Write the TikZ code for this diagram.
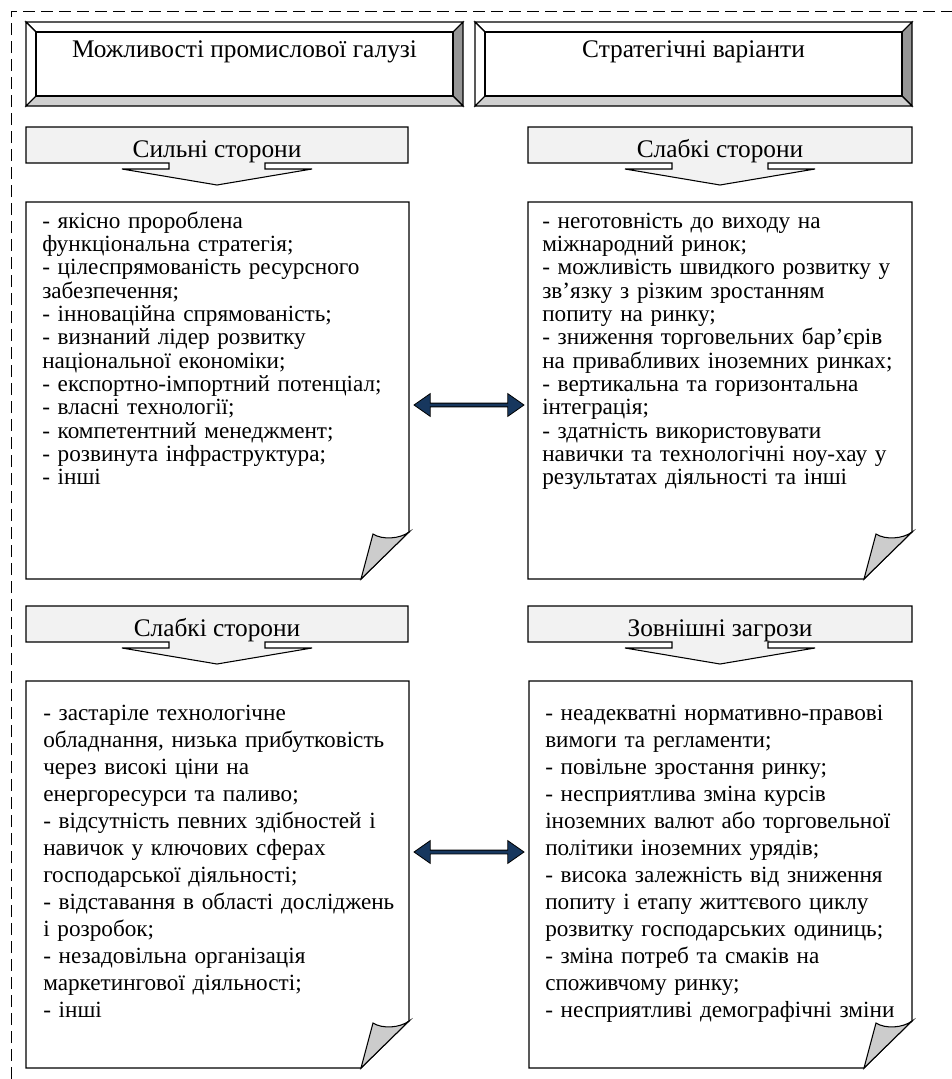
\documentclass[tikz,border=0pt]{standalone}
\usepackage{fontspec}
\setmainfont{Liberation Serif}
\usetikzlibrary{shapes.arrows}

\definecolor{calloutgray}{RGB}{242,242,242}
\definecolor{curlgray}{RGB}{204,204,204}
\definecolor{bevelside}{RGB}{150,150,150}
\definecolor{bevelbottom}{RGB}{208,208,208}
\definecolor{linknavy}{RGB}{23,55,94}

\newcommand{\BodyFont}{\fontsize{17.4}{17.5}\selectfont}
\newcommand{\LowFont}{\fontsize{17.4}{20.3}\selectfont}
\newcommand{\HeadFont}{\fontsize{19}{22}\selectfont}

% framed title: x1 y1 x2 y2, bevel of 10
\newcommand{\BevelFrame}[4]{%
	\draw[boxline,fill=white] (#1,#2) -- (#3,#2) -- (#3-10,#2+10) -- (#1+10,#2+10) -- cycle;
	\draw[boxline,fill=white] (#1,#2) -- (#1+10,#2+10) -- (#1+10,#4-10) -- (#1,#4) -- cycle;
	\draw[boxline,fill=bevelside] (#3,#2) -- (#3-10,#2+10) -- (#3-10,#4-10) -- (#3,#4) -- cycle;
	\draw[boxline,fill=bevelbottom] (#1,#4) -- (#1+10,#4-10) -- (#3-10,#4-10) -- (#3,#4) -- cycle;
	\draw[boxline] (#1+10,#2+10) rectangle (#3-10,#4-10);
}
% down arrow callout: left, right, tip x, top
\newcommand{\CalloutArrow}[4]{%
	\draw[boxline,fill=calloutgray] (#1,#4) -- (#2,#4) -- (#2,#4+36)
		-- (#3+48,#4+36) -- (#3+48,#4+42) -- (#3+95,#4+42) -- (#3,#4+58)
		-- (#3-95,#4+42) -- (#3-48,#4+42) -- (#3-48,#4+36) -- (#1,#4+36) -- cycle;
}
% sheet with a curled corner: x1 y1 x2 y2
\newcommand{\CurlPage}[4]{%
	\draw[boxline,fill=white] (#1,#2) -- (#3,#2) -- (#3,#4-47) -- (#3-48,#4) -- (#1,#4) -- cycle;
	\draw[boxline,fill=curlgray] (#3,#4-47) .. controls (#3-9,#4-40) and (#3-27,#4-39) .. (#3-36,#4-45)
		-- (#3-48,#4) -- cycle;
}

\tikzset{
	boxline/.style={draw=black,line width=0.8pt,line join=miter},
	headtext/.style={anchor=base,inner sep=0pt,font=\HeadFont},
	bodytext/.style={anchor=base west,inner sep=0pt,text width=310pt,align=left,font=\BodyFont},
	lowtext/.style={bodytext,font=\LowFont},
	linkarrow/.style={double arrow,draw=black,fill=linknavy,line width=0.6pt,inner sep=0pt,
		minimum height=82.5pt,minimum width=17pt,double arrow head extend=1.5pt,
		double arrow tip angle=70},
}

\begin{document}
\begin{tikzpicture}[x=0.75pt,y=-0.75pt]
	\useasboundingbox (0,0) rectangle (952,1079);

	% dashed outer frame
	\draw[line width=0.6pt,dash pattern=on 9pt off 4.5pt] (11,1079) -- (11,11) -- (952,11);

	% titles
	\BevelFrame{26}{22}{463}{106}
	\BevelFrame{475}{22}{912}{106}
	\node[headtext] (titleInd) at (244.5,57) {Можливості промислової галузі};
	\node[headtext] (titleStr) at (693.5,57) {Стратегічні варіанти};

	% callouts
	\CalloutArrow{26}{408}{217}{127}
	\CalloutArrow{528}{912}{720}{127}
	\CalloutArrow{26}{408}{217}{606}
	\CalloutArrow{528}{912}{720}{606}
	\node[headtext] (strong) at (217,157) {Сильні сторони};
	\node[headtext] (weakA) at (720,157) {Слабкі сторони};
	\node[headtext] (weakB) at (217,636) {Слабкі сторони};
	\node[headtext] (threats) at (720,636) {Зовнішні загрози};

	% sheets
	\CurlPage{26}{202}{409}{579}
	\CurlPage{528}{202}{912}{579}
	\CurlPage{26}{681}{409}{1068}
	\CurlPage{529}{681}{912}{1068}

	\node[bodytext] (listStrong) at (42,228) {%
		- якісно пророблена\\
		функціональна стратегія;\\
		- цілеспрямованість ресурсного\\
		забезпечення;\\
		- інноваційна спрямованість;\\
		- визнаний лідер розвитку\\
		національної економіки;\\
		- експортно-імпортний потенціал;\\
		- власні технології;\\
		- компетентний менеджмент;\\
		- розвинута інфраструктура;\\
		- інші};
	\node[bodytext] (listWeakA) at (542,228) {%
		- неготовність до виходу на\\
		міжнародний ринок;\\
		- можливість швидкого розвитку у\\
		зв’язку з різким зростанням\\
		попиту на ринку;\\
		- зниження торговельних бар’єрів\\
		на привабливих іноземних ринках;\\
		- вертикальна та горизонтальна\\
		інтеграція;\\
		- здатність використовувати\\
		навички та технологічні ноу-хау у\\
		результатах діяльності та інші};
	\node[lowtext] (listWeakB) at (43,720) {%
		- застаріле технологічне\\
		обладнання, низька прибутковість\\
		через високі ціни на\\
		енергоресурси та паливо;\\
		- відсутність певних здібностей і\\
		навичок у ключових сферах\\
		господарської діяльності;\\
		- відставання в області досліджень\\
		і розробок;\\
		- незадовільна організація\\
		маркетингової діяльності;\\
		- інші};
	\node[lowtext] (listThreats) at (545,720) {%
		- неадекватні нормативно-правові\\
		вимоги та регламенти;\\
		- повільне зростання ринку;\\
		- несприятлива зміна курсів\\
		іноземних валют або торговельної\\
		політики іноземних урядів;\\
		- висока залежність від зниження\\
		попиту і етапу життєвого циклу\\
		розвитку господарських одиниць;\\
		- зміна потреб та смаків на\\
		споживчому ринку;\\
		- несприятливі демографічні зміни};

	% links between the sheets
	\node[linkarrow] (linkTop) at (469,405) {};
	\node[linkarrow] (linkLow) at (469,852) {};
\end{tikzpicture}
\end{document}
